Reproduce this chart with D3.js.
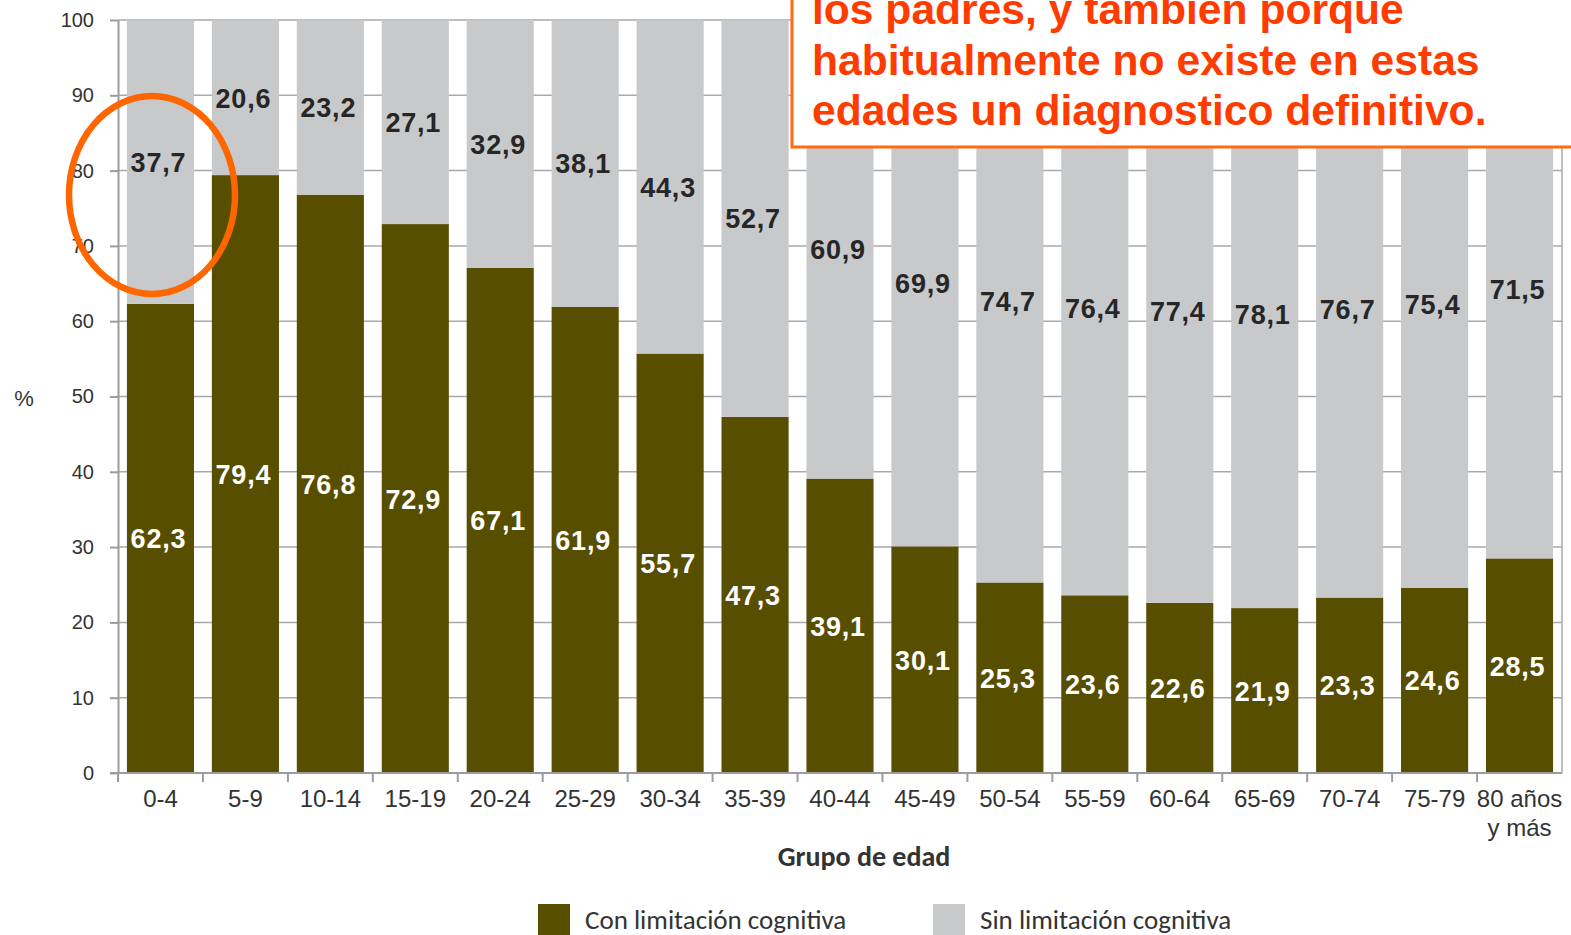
<!DOCTYPE html>
<html><head><meta charset="utf-8">
<script src="https://cdn.jsdelivr.net/npm/d3@7"></script>
<style>
html,body{margin:0;padding:0;background:#fff;overflow:hidden}
svg{display:block}
</style></head>
<body>
<svg id="chart" width="1571" height="935"></svg>
<script>
const categories = ["0-4","5-9","10-14","15-19","20-24","25-29","30-34","35-39","40-44","45-49","50-54","55-59","60-64","65-69","70-74","75-79","80 años\ny más"];
const conLimitacion = [62.3,79.4,76.8,72.9,67.1,61.9,55.7,47.3,39.1,30.1,25.3,23.6,22.6,21.9,23.3,24.6,28.5];
const sinLimitacion = [37.7,20.6,23.2,27.1,32.9,38.1,44.3,52.7,60.9,69.9,74.7,76.4,77.4,78.1,76.7,75.4,71.5];
const yTicks = [0,10,20,30,40,50,60,70,80,90,100];
const seriesNames = ["Con limitación cognitiva","Sin limitación cognitiva"];
const noteLines = ["los padres, y también porque","habitualmente no existe en estas","edades un diagnostico definitivo."];
const xTitle = "Grupo de edad";
const yTitle = "%";

(function(){
const colDark = "#584e00", colGray = "#c8c9cb", gridCol = "#a9a9ab", axisCol = "#9c9ca0";
const fontMain = "'Liberation Sans', Arial, Helvetica, sans-serif";
const fontLegend = "Carlito, 'Open Sans', 'Liberation Sans', sans-serif";

const svg = d3.select("#chart");
const pL = 118, pR = 1562, pT = 20, pB = 773;

const x = d3.scaleBand().domain(categories).range([pL, pR]).paddingInner(0.21).paddingOuter(0.105);
const y = d3.scaleLinear().domain([0,100]).range([pB, pT]);

const data = categories.map((c,i)=>({cat:c, con:conLimitacion[i], sin:sinLimitacion[i]}));
const stack = d3.stack().keys(["con","sin"])(data);

// gridlines
svg.append("g").selectAll("line").data(yTicks.filter(d=>d>0)).join("line")
  .attr("x1", pL).attr("x2", pR)
  .attr("y1", d=>y(d)).attr("y2", d=>y(d))
  .attr("stroke", gridCol).attr("stroke-width", 1.5);
svg.append("line").attr("x1", pR).attr("x2", pR).attr("y1", y(100)).attr("y2", y(0))
  .attr("stroke", gridCol).attr("stroke-width", 1.5);

// bars
const colors = {con: colDark, sin: colGray};
stack.forEach(s=>{
  svg.append("g").selectAll("rect").data(s).join("rect")
    .attr("x", d=>x(d.data.cat))
    .attr("width", x.bandwidth())
    .attr("y", d=>y(d[1]))
    .attr("height", d=>y(d[0])-y(d[1]))
    .attr("fill", colors[s.key]);
});

// value labels
const fmt = v => d3.format(".1f")(v).replace(".", ",");
stack.forEach(s=>{
  svg.append("g").selectAll("text").data(s).join("text")
    .attr("x", d=>x(d.data.cat)+x.bandwidth()/2 - 2)
    .attr("y", d=>y((d[0]+d[1])/2)+10)
    .attr("text-anchor","middle")
    .attr("font-family", fontMain).attr("font-weight","bold").attr("font-size", 27)
    .attr("letter-spacing", 0.8)
    .attr("fill", s.key==="con" ? "#ffffff" : "#262626")
    .text(d=>fmt(d[1]-d[0]));
});

// y axis
const yAxis = svg.append("g").attr("transform", `translate(${pL},0)`)
  .call(d3.axisLeft(y).tickValues(yTicks).tickSize(8).tickSizeOuter(0).tickPadding(16));
yAxis.select(".domain").attr("stroke", axisCol).attr("stroke-width", 2);
yAxis.selectAll(".tick line").attr("stroke", axisCol).attr("stroke-width", 2);
yAxis.selectAll(".tick text").attr("font-family", fontMain).attr("font-size", 20).attr("fill", "#333");

// x axis
const xAxis = svg.append("g").attr("transform", `translate(0,${pB})`)
  .call(d3.axisBottom(x).tickSize(0).tickSizeOuter(0).tickPadding(0));
xAxis.select(".domain").attr("stroke", axisCol).attr("stroke-width", 2).attr("d", `M${pL-8},0H${pR}`);
xAxis.selectAll(".tick text").attr("font-family", fontMain).attr("font-size", 24).attr("fill", "#333")
  .attr("dy", null).attr("y", 34)
  .each(function(d){
    const lines = d.split("\n");
    const t = d3.select(this).text(null);
    lines.forEach((l,i)=>t.append("tspan").attr("x",0).attr("dy", i===0?0:29).text(l));
  });
const step = x.step();
const boundaries = [pL].concat(categories.slice(1).map(c=>x(c) - step*x.paddingInner()/2));
svg.append("g").selectAll("line").data(boundaries).join("line")
  .attr("x1", d=>d).attr("x2", d=>d).attr("y1", pB).attr("y2", pB+9)
  .attr("stroke", axisCol).attr("stroke-width", 2);

// axis titles
svg.append("text").attr("x", 24).attr("y", 406).attr("text-anchor","middle")
  .attr("font-family", fontMain).attr("font-size", 22).attr("fill","#333").text(yTitle);
svg.append("text").attr("x", 864).attr("y", 866).attr("text-anchor","middle")
  .attr("font-family", fontLegend).attr("font-weight","bold").attr("font-size", 28).attr("fill","#333").text(xTitle);

// legend
const legendX = [538, 933];
const legend = svg.append("g").selectAll("g").data(seriesNames).join("g")
  .attr("transform", (d,i)=>`translate(${legendX[i]},904)`);
legend.append("rect").attr("width", 32).attr("height", 34).attr("fill", (d,i)=> i===0?colDark:colGray);
legend.append("text").attr("x", 47).attr("y", 25)
  .attr("font-family", fontLegend).attr("font-size", 27).attr("fill","#333").text(d=>d);

// annotation ellipse
svg.append("ellipse").attr("cx", 152).attr("cy", 195).attr("rx", 83).attr("ry", 99)
  .attr("fill","none").attr("stroke","#ff6600").attr("stroke-width", 6.5);

// annotation note box
const note = svg.append("g");
note.append("rect").attr("x", 792).attr("y", -20).attr("width", 790).attr("height", 167)
  .attr("fill","#fff").attr("stroke","#ff6a13").attr("stroke-width", 3);
note.selectAll("text").data(noteLines).join("text")
  .attr("x", 812).attr("y", (d,i)=>24 + i*50.5)
  .attr("font-family", fontMain).attr("font-weight","bold").attr("font-size", 42.6)
  .attr("fill", "#ff3c00").text(d=>d);
})();
</script>
</body></html>
